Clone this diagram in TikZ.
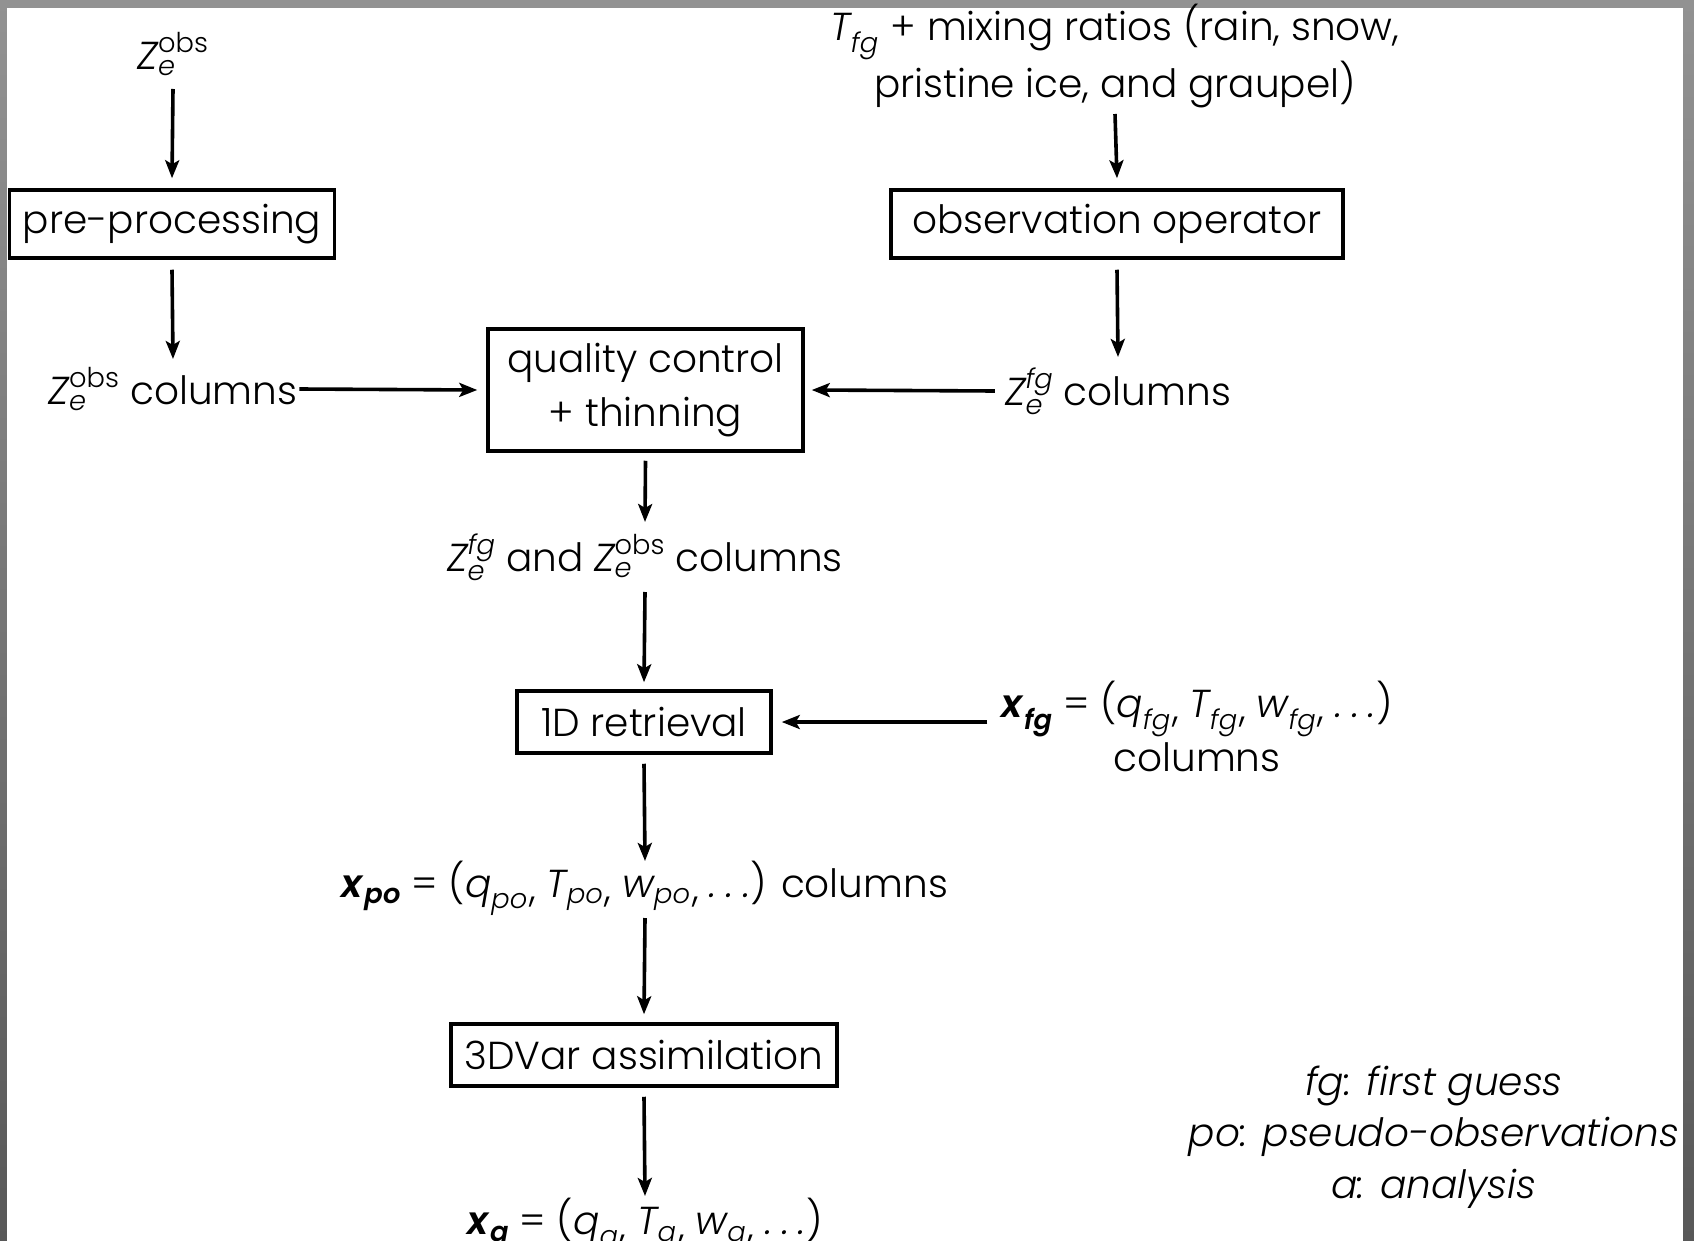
\documentclass[tikz,border=0pt]{standalone}
\usepackage{amsmath}
\usepackage{fontspec}
\setmainfont{Poppins}[UprightFont={* Light}, ItalicFont={* Light Italic}, BoldFont={* SemiBold}, BoldItalicFont={* SemiBold Italic}]
\usetikzlibrary{arrows.meta,calc}
\newcommand\vZ[2]{\ensuremath{\textit{Z}_{\textit{#1}}^{#2}}}
\newcommand\vv[2]{\ensuremath{\textit{#1}_{\textit{#2}}}\kern1.5pt\relax}
\newcommand\vb[2]{\ensuremath{\textbf{\textit{#1}}_{\textbf{\textit{#2}}}}}
\newcommand\cm{\raisebox{-0.12em}{,}}
\newcommand\dts{\textit{.\hspace{0.25em}.\hspace{0.25em}.}}
\tikzset{
  txt/.style={inner sep=2pt, font=\fontsize{39}{54}\selectfont, align=center},
  box/.style={txt, draw, line width=3.5pt, inner sep=0pt},
  arr/.style={line width=3.6pt, -{Stealth[length=18pt,width=14pt,inset=4pt]}}
}
\begin{document}
\begin{tikzpicture}[x=1pt,y=-1pt]
\shade[top color={rgb,255:red,146;green,146;blue,146}, bottom color={rgb,255:red,88;green,88;blue,88}] (0,0) rectangle (1694,1241);
\fill[white] (7,8) rectangle (1683,1241);
\useasboundingbox (0,0) rectangle (1694,1241);

\node[txt] (zobs) at (173,54) {\vZ{e}{\text{obs}}};
\node[box, minimum width=325pt, minimum height=68pt] (pre) at (172,224) {pre-processing};
\node[txt] (zobsc) at (173,389) {\vZ{e}{\text{obs}} columns};
\node[box, minimum width=315pt, minimum height=122pt] (qc) at (645.5,390) {quality control\\+ thinning};
\node[txt] (topT) at (1115,56) {\vv{T}{fg} + mixing ratios (rain, snow,\\pristine ice, and graupel)};
\node[box, minimum width=452pt, minimum height=68pt] (obs) at (1117,224) {observation operator};
\node[txt] (zfgc) at (1118,391) {\vZ{e}{\textit{fg}} columns};
\node[txt] (both) at (645,557) {\vZ{e}{\textit{fg}} and \vZ{e}{\text{obs}} columns};
\node[box, minimum width=254pt, minimum height=62pt] (ret) at (644,722) {1D retrieval};
\node[txt] (xfg) at (1197,726) {\vb{x}{fg} = (\vv{q}{fg}\cm{} \vv{T}{fg}\cm{} \vv{w}{fg}\cm{} \dts)\\columns};
\node[txt] (xpo) at (645,888) {\vb{x}{po} = (\vv{q}{po}\cm{} \vv{T}{po}\cm{} \vv{w}{po}\cm{} \dts) columns};
\node[box, minimum width=386pt, minimum height=62pt] (var) at (644,1055) {3DVar assimilation};
\node[txt] (xa) at (645,1222) {\vb{x}{a} = (\vv{q}{a}\cm{} \vv{T}{a}\cm{} \vv{w}{a}\cm{} \dts)};
\node[txt, font=\fontsize{39}{51.5}\selectfont\itshape] (leg) at (1434,1137) {fg: first guess\\po: pseudo-observations\\a: analysis};

\draw[arr] ([yshift=-35pt]zobs.center) -- ([yshift=10pt]pre.north);
\draw[arr] ([yshift=-10pt]pre.south) -- ([yshift=30pt]zobsc.center);
\draw[arr] (zobsc.east) -- ([xshift=-9pt]qc.west);
\draw[arr] ([yshift=-58pt]topT.center) -- ([yshift=10pt]obs.north);
\draw[arr] ([yshift=-10pt]obs.south) -- ([yshift=34pt]zfgc.center);
\draw[arr] ([xshift=-8pt]zfgc.west) -- ([xshift=7pt]qc.east);
\draw[arr] ([yshift=-8pt]qc.south) -- ([yshift=35pt]both.center);
\draw[arr] ([yshift=-35pt]both.center) -- ([yshift=7pt]ret.north);
\draw[arr] ($(xfg.west |- ret.east)+(-12,0)$) -- ([xshift=9pt]ret.east);
\draw[arr] ([yshift=-9pt]ret.south) -- ([yshift=27pt]xpo.center);
\draw[arr] ([yshift=-30pt]xpo.center) -- ([yshift=8pt]var.north);
\draw[arr] ([yshift=-9pt]var.south) -- ([yshift=26pt]xa.center);
\end{tikzpicture}
\end{document}
